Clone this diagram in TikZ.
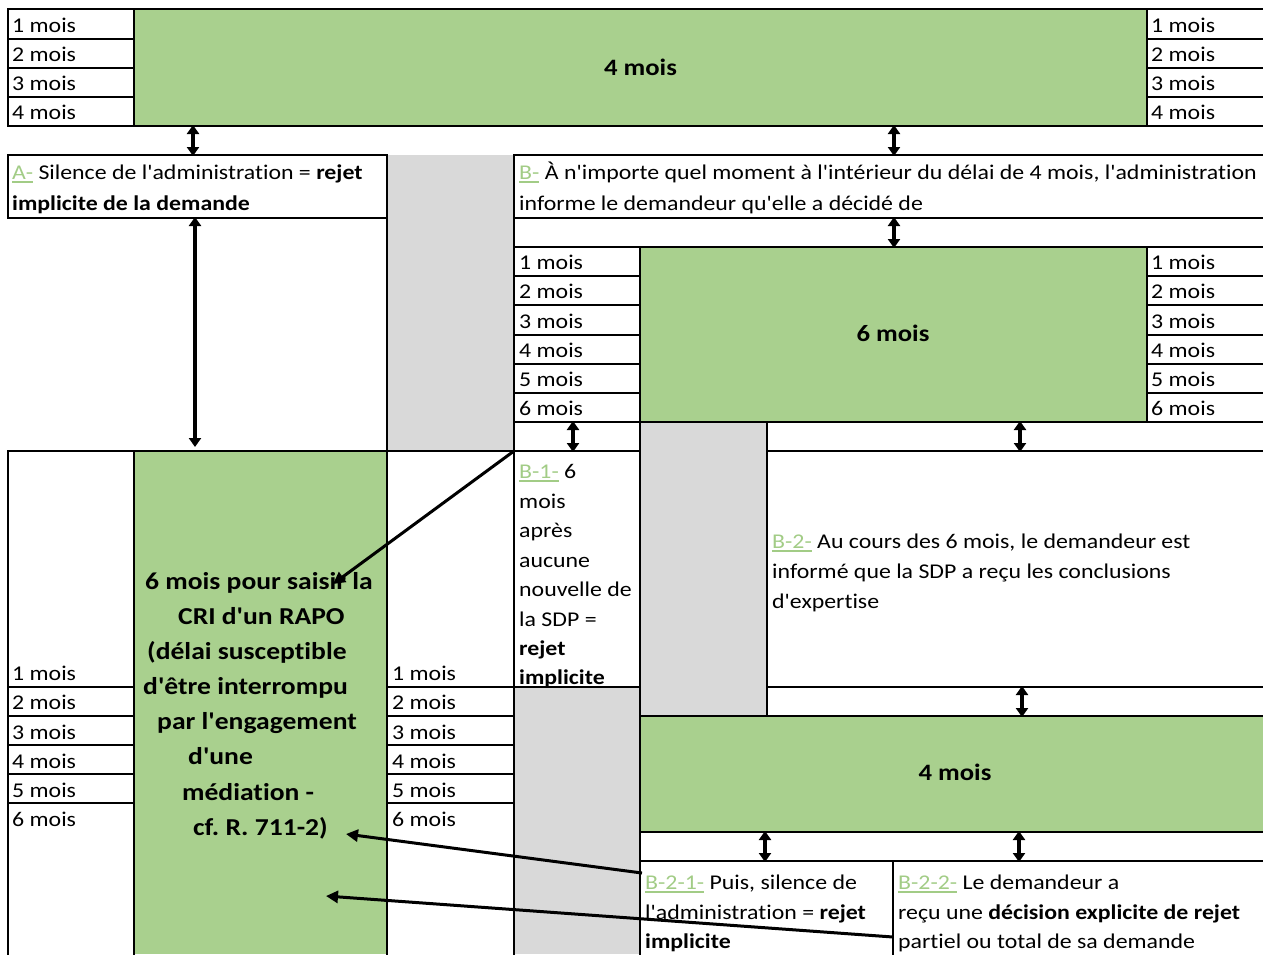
\documentclass[tikz,border=0pt]{standalone}
\usepackage{fontspec}
\defaultfontfeatures{}
\setmainfont{Carlito}[FakeStretch=1.135, Ligatures={TeXOff,CommonOff}]
\usetikzlibrary{arrows.meta}
\definecolor{vert}{HTML}{A9D08E}
\definecolor{gris}{HTML}{D9D9D9}
\definecolor{lab}{HTML}{A2CC86}
\newcommand\glab[1]{\textcolor{lab}{\setbox0\hbox{#1}\rlap{\rule[-3.6pt]{\wd0}{1.8pt}}\box0}}
\frenchspacing
\tikzset{
  txt/.style={anchor=base west, inner sep=0pt, font=\fontsize{21}{25}\selectfont},
  big/.style={anchor=base west, inner sep=0pt, font=\fontsize{24.3}{30}\selectfont\bfseries},
  head/.style={anchor=base, inner sep=0pt, font=\fontsize{23.5}{28}\selectfont\bfseries},
  grid/.style={line width=2.2pt, line cap=rect},
  dbl/.style={line width=3.2pt, {Triangle[width=12pt,length=9pt]}-{Triangle[width=12pt,length=9pt]}, shorten <=-1pt, shorten >=-1pt},
  conn/.style={line width=3pt, -{Triangle[width=12pt,length=12pt]}},
}
\begin{document}
\frenchspacing
\begin{tikzpicture}[x=1pt,y=-1pt]
\useasboundingbox (0,0) rectangle (1263,954);
% fills
\fill[vert] (134,9) rectangle (1147,126);
\fill[gris] (387,155) rectangle (514,451);
\fill[vert] (640,247) rectangle (1147,422);
\fill[gris] (640,422) rectangle (767,716);
\fill[vert] (134,451) rectangle (387,954);
\fill[gris] (514,687) rectangle (640,954);
\fill[vert] (640,716) rectangle (1263,832);
% top table
\draw[grid] (8,9) -- (1263,9) (8,126) -- (1263,126) (8,9) -- (8,126) (134,9) -- (134,126) (1147,9) -- (1147,126);
\foreach \y in {39,68,97} { \draw[grid] (8,\y) -- (134,\y) (1147,\y) -- (1263,\y); }
% A and B boxes
\draw[grid] (8,155) rectangle (387,218);
\draw[grid] (514,155) -- (1263,155) (514,218) -- (1263,218) (514,247) -- (1263,247);
\draw[grid] (387,155) -- (387,954) (514,155) -- (514,954);
% 6 mois table
\foreach \y in {276,305,335,364,393} { \draw[grid] (514,\y) -- (640,\y) (1147,\y) -- (1263,\y); }
\draw[grid] (640,247) -- (640,954) (1147,247) -- (1147,422) (514,422) -- (1263,422);
\draw[grid] (8,451) -- (640,451) (767,451) -- (1263,451) (767,422) -- (767,716);
\draw[grid] (514,687) -- (640,687) (767,687) -- (1263,687);
\draw[grid] (640,716) -- (1263,716) (640,832) -- (1263,832) (640,861) -- (1263,861) (893,861) -- (893,954);
% bottom left table
\draw[grid] (8,451) -- (8,954) (134,451) -- (134,954);
\foreach \y in {687,716,745,774,803} { \draw[grid] (8,\y) -- (134,\y) (387,\y) -- (514,\y); }
% month labels
\foreach \i/\y in {1/32,2/61,3/90,4/119} {
  \node[txt] (tl\i) at (12,\y) {\i{} mois};
  \node[txt] (tr\i) at (1151,\y) {\i{} mois};
}
\foreach \i/\y in {1/269,2/298,3/328,4/357,5/386,6/415} {
  \node[txt] (ml\i) at (519,\y) {\i{} mois};
  \node[txt] (mr\i) at (1151,\y) {\i{} mois};
}
\foreach \i/\y in {1/680,2/709,3/739,4/768,5/797,6/826} {
  \node[txt] (bl\i) at (12,\y) {\i{} mois};
  \node[txt] (bm\i) at (392,\y) {\i{} mois};
}
% headers
\node[head] (h4a) at (640.5,75) {4 mois};
\node[head] (h6) at (893,341) {6 mois};
\node[head] (h4b) at (955,780) {4 mois};
% A box
\node[txt] (A1) at (12,179) {\glab{A-} Silence de l'administration = \textbf{rejet}};
\node[txt] (A2) at (12,210) {\textbf{implicite de la demande}};
% B box
\node[txt] (B1) at (519,179) {\glab{B-} À n'importe quel moment à l'intérieur du délai de 4 mois, l'administration};
\node[txt] (B2) at (519,210) {informe le demandeur qu'elle a décidé de};
% B-1
\node[txt] (b11) at (519,478) {\glab{B-1-} 6};
\node[txt] (b12) at (519,508) {mois};
\node[txt] (b13) at (519,537) {après};
\node[txt] (b14) at (519,567) {aucune};
\node[txt] (b15) at (519,596) {nouvelle de};
\node[txt] (b16) at (519,626) {la SDP =};
\node[txt] (b17) at (519,655) {\textbf{rejet}};
\node[txt] (b18) at (519,684) {\textbf{implicite}};
% B-2
\node[txt] (b21) at (772,548) {\glab{B-2-} Au cours des 6 mois, le demandeur est};
\node[txt] (b22) at (772,578) {informé que la SDP a reçu les conclusions};
\node[txt] (b23) at (772,608) {d'expertise};
% B-2-1
\node[txt] (c1) at (645,889) {\glab{B-2-1-} Puis, silence de};
\node[txt] (c2) at (645,919) {l'administration = \textbf{rejet}};
\node[txt] (c3) at (645,948) {\textbf{implicite}};
% B-2-2
\node[txt] (d1) at (898,889) {\glab{B-2-2-} Le demandeur a};
\node[txt] (d2) at (898,919) {reçu une \textbf{décision explicite de rejet}};
\node[txt] (d3) at (898,948) {partiel ou total de sa demande};
% RAPO text
\node[big] (r1) at (145,589) {6 mois pour saisir la};
\node[big] (r2) at (178,624) {CRI d'un RAPO};
\node[big] (r3) at (147,659) {(délai susceptible};
\node[big] (r4) at (143,694) {d'être interrompu};
\node[big] (r5) at (157,729) {par l'engagement};
\node[big] (r6) at (188,764) {d'une};
\node[big] (r7) at (182,800) {médiation -};
\node[big] (r8) at (193,835) {cf. R. 711-2)};
% arrow coordinates
\coordinate (p1) at (193,126); \coordinate (q1) at (193,155);
\coordinate (p2) at (894,126); \coordinate (q2) at (894,155);
\coordinate (p3) at (894,218); \coordinate (q3) at (894,247);
\coordinate (p4) at (573,422); \coordinate (q4) at (573,451);
\coordinate (p5) at (1020,422); \coordinate (q5) at (1020,451);
\coordinate (p6) at (1022,687); \coordinate (q6) at (1022,716);
\coordinate (p7) at (765,832); \coordinate (q7) at (765,861);
\coordinate (p8) at (1019,832); \coordinate (q8) at (1019,861);
\coordinate (pA) at (195,218); \coordinate (qA) at (195,446);
\foreach \k in {1,...,8} { \draw[dbl] (p\k) -- (q\k); }
\draw[dbl] (pA) -- (qA);
% connectors
\coordinate (s1) at (514,451); \coordinate (e1) at (333,584);
\coordinate (s2) at (642,873); \coordinate (e2) at (346,834);
\coordinate (s3) at (893,937); \coordinate (e3) at (326,896);
\draw[conn] (s1) -- (e1);
\draw[conn] (s2) -- (e2);
\draw[conn] (s3) -- (e3);
\end{tikzpicture}
\end{document}
